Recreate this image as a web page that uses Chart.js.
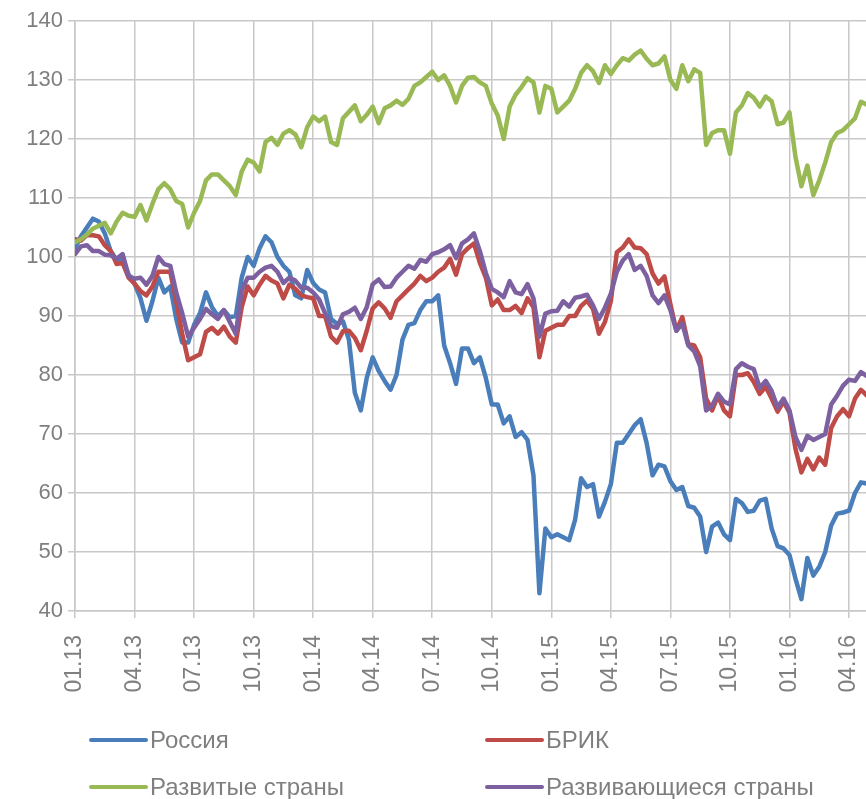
<!DOCTYPE html>
<html><head><meta charset="utf-8">
<script src="https://cdn.jsdelivr.net/npm/chart.js@4"></script>
<style>html,body{margin:0;padding:0;background:#fff;overflow:hidden}</style>
</head><body>
<canvas id="c" width="866" height="799"></canvas>
<script>
const xTickLabels = ['01.13','04.13','07.13','10.13','01.14','04.14','07.14','10.14','01.15','04.15','07.15','10.15','01.16','04.16'];
const sampleStep = 0.1; // quarters between samples
const seriesNames = ['Россия','БРИК','Развитые страны','Развивающиеся страны'];

const russia = [
101.5,103.5,105,106.5,106,104,101,99.5,99.5,97,
95.5,93,89.2,92.5,96.5,94,95,89.5,85.5,85.5,
88.5,90.5,94,91.5,90,91,89.8,90,96.5,100,
98.5,101.5,103.5,102.5,100,98.5,97.5,93.5,93,97.8,
95.6,94.5,94,89.5,88.7,89.1,86,77,74,79.5,
83,80.7,79,77.5,80,86,88.5,88.8,91,92.5,
92.5,93.5,85,82,78.5,84.5,84.5,82,83,79.5,
75,75,71.8,73,69.5,70.3,69,63,43,54,
52.5,53,52.5,52,55.5,62.5,61,61.5,56,58.5,
61.5,68.5,68.5,70,71.5,72.5,68.5,63,64.8,64.5,
62,60.5,61,57.8,57.5,56,50,54.3,55,53,
52,59,58.3,56.8,57,58.7,59,54,51,50.6,
49.5,45.5,42,49,46,47.5,50,54.5,56.5,56.7,
57,60,61.8,61.6];

const bric = [
103,102.8,103.7,103.7,103.5,102,101,98.8,99,96.5,
95.5,94.2,93.5,95,97.5,97.5,97.5,92.5,87,82.5,
83,83.5,87.3,88,87,88.2,86.5,85.5,91.5,95,
93.5,95.3,96.8,96,95.5,93,95.3,94.6,93.5,93.2,
93,90,90,86.5,85.5,87.4,87.5,86.3,84.2,87.5,
91.3,92.3,91.3,89.7,92.5,93.5,94.5,95.5,96.8,95.9,
96.5,97.5,98.2,99.7,97,100.5,101.5,102.3,99,96.5,
91.8,92.8,91,91,91.7,90.5,93,91.5,83,87.5,
88,88.5,88.5,90,90,91.7,92.6,91.2,87,89,
92.5,100.8,101.6,103,101.6,101.5,100.5,97.2,95.5,96.7,
92,87.5,89.8,85.2,85,83,76,74,76.5,74,
73,80,80,80.3,78.8,76.8,78,76,73.8,75.5,
73.6,67.5,63.5,65.8,64,66,64.8,71,73,74.2,
73,76,77.5,76.5];

const developed = [
102.5,103,103.8,104.8,105.3,105.8,104,106,107.5,107,
106.8,108.8,106.2,109,111.5,112.5,111.5,109.5,109,105,
107.5,109.5,113,114,114,113,112,110.5,114.5,116.5,
116,114.5,119.5,120.2,119,120.9,121.5,120.8,118.6,122,
123.8,123,123.8,119.5,119,123.5,124.6,125.7,123,124.1,
125.5,122.7,125.2,125.7,126.5,125.8,126.8,129,129.6,130.5,
131.4,130,130.8,129,126.2,129,130.4,130.5,129.6,129,
126,124,120,125.5,127.5,128.8,130.3,129.6,124.5,129,
128.5,124.5,125.5,126.5,128.5,131.2,132.5,131.5,129.5,132.5,
131,132.5,133.7,133.3,134.3,135,133.6,132.5,132.8,134,
130,128.5,132.5,129.8,131.8,131.2,119,121,121.5,121.5,
117.5,124.5,125.7,127.8,127,125.5,127.2,126.4,122.5,122.8,
124.5,117,112,115.5,110.5,113,116,119.5,121,121.5,
122.5,123.5,126.3,125.8];

const developing = [
100.5,101.8,102,101,101,100.4,100.3,99.7,100.5,96.8,
96.3,96.5,95.3,96.8,100,98.8,98.5,94,90.5,86.5,
88,89.5,91.2,90.3,89.5,91,89,87,94.3,96.5,
96.5,97.5,98.2,98.5,97.5,95.6,96.5,96,94.8,94.8,
94,92.8,90.5,88.3,88,90.3,90.7,91.4,89.5,91.5,
95.4,96.2,94.9,95,96.5,97.5,98.5,98,99.5,99.2,
100.5,100.8,101.3,102,99.8,102.3,103,104,101,97.3,
94.6,94,93.2,95.9,94,93.7,95.4,93,86.5,90.4,
90.8,90.9,92.5,91.6,93.1,93.3,93.6,91.8,89.5,91.4,
93.8,97.5,99.4,100.5,97.8,98.5,96.8,93.5,92.2,93.5,
91,87.5,88.7,85,84,81.5,74,74.8,76.8,75.5,
75,81,82,81.4,81,77.8,79,77.3,74.5,76,
74,69.5,67.3,69.7,69,69.5,70,75,76.5,78.2,
79.2,79,80.5,79.8];

const toPoints = arr => arr.map((v, i) => ({x: i * sampleStep, y: v}));

const FONT = '"Liberation Sans", Arial, sans-serif';
const TXT = '#7f7f7f';
const GRID = '#c8c8c8';

const legendPlugin = {
  id: 'gridLegend',
  afterDraw(chart) {
    const ctx = chart.ctx;
    const slots = [[91, 740], [487, 740], [91, 787], [487, 787]];
    chart.data.datasets.forEach((ds, i) => {
      const [x, y] = slots[i];
      ctx.save();
      ctx.strokeStyle = ds.borderColor;
      ctx.lineWidth = 4;
      ctx.lineCap = 'round';
      ctx.beginPath(); ctx.moveTo(x, y); ctx.lineTo(x + 55, y); ctx.stroke();
      ctx.fillStyle = TXT;
      ctx.font = '24px ' + FONT;
      ctx.textBaseline = 'middle';
      ctx.textAlign = 'left';
      ctx.fillText(ds.label, x + 59, y + 1);
      ctx.restore();
    });
  }
};

new Chart(document.getElementById('c'), {
  type: 'line',
  data: {
    datasets: [
      {label: seriesNames[0], data: toPoints(russia), borderColor: '#4A7EBB', order: 4},
      {label: seriesNames[1], data: toPoints(bric), borderColor: '#BE4B48', order: 3},
      {label: seriesNames[2], data: toPoints(developed), borderColor: '#98B954', order: 2},
      {label: seriesNames[3], data: toPoints(developing), borderColor: '#7D60A0', order: 1}
    ]
  },
  options: {
    responsive: false,
    animation: false,
    devicePixelRatio: 1,
    layout: {padding: {top: 21, left: 0, right: 0, bottom: 0}},
    elements: {
      line: {borderWidth: 4.5, tension: 0, borderJoinStyle: 'round', borderCapStyle: 'round', fill: false},
      point: {radius: 0, hoverRadius: 0}
    },
    plugins: {legend: {display: false}, tooltip: {enabled: false}},
    scales: {
      x: {
        type: 'linear', min: 0, max: 13.285,
        afterBuildTicks: s => { s.ticks = xTickLabels.map((_, i) => ({value: i})); },
        afterFit: s => { s.height = 188; s.paddingRight = 0; s.paddingLeft = 0; },
        grid: {color: GRID, lineWidth: 1.5, tickLength: 7, drawTicks: true},
        border: {color: GRID, width: 1.5},
        ticks: {
          callback: v => xTickLabels[v],
          minRotation: 90, maxRotation: 90, autoSkip: false, padding: 17,
          color: TXT, font: {family: FONT, size: 23}
        }
      },
      y: {
        min: 40, max: 140,
        afterFit: s => { s.width = 75; },
        grid: {color: GRID, lineWidth: 1.5, tickLength: 7, drawTicks: true},
        border: {color: GRID, width: 1.5},
        ticks: {stepSize: 10, padding: 5, color: TXT, font: {family: FONT, size: 22}}
      }
    }
  },
  plugins: [legendPlugin]
});
</script>
</body></html>
